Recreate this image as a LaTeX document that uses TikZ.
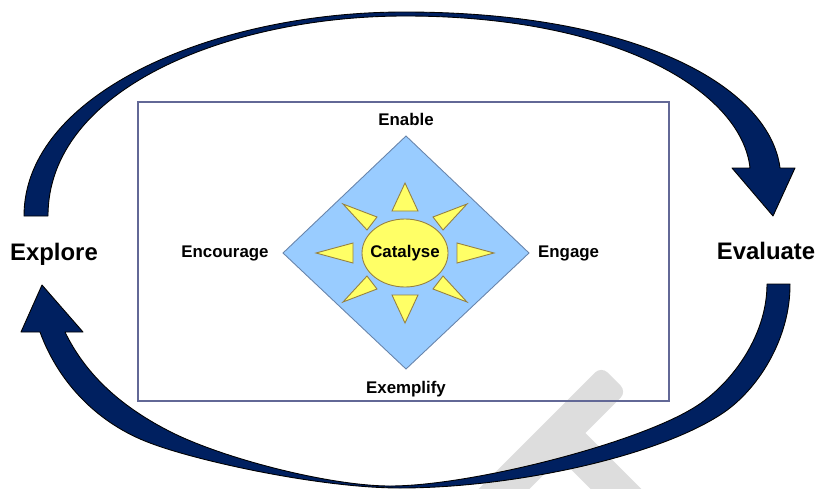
\documentclass[tikz,border=0pt]{standalone}
\usepackage{fontspec}
\setmainfont{Liberation Sans}
\usetikzlibrary{positioning}
\definecolor{CycleNavy}{RGB}{0,32,96}
\definecolor{FrameBlue}{RGB}{98,104,150}
\definecolor{KiteBlue}{RGB}{153,204,255}
\definecolor{KiteEdge}{RGB}{104,132,170}
\definecolor{SunYellow}{RGB}{255,255,102}
\definecolor{SunEdge}{RGB}{150,128,64}
\definecolor{FaintGray}{RGB}{221,221,221}
\tikzset{
  cyclearrow/.style={fill=CycleNavy, draw=black, line width=0.5pt, line join=round},
  frame/.style={draw=FrameBlue, line width=0.85pt},
  kite/.style={fill=KiteBlue, draw=KiteEdge, line width=0.5pt},
  sun/.style={fill=SunYellow, draw=SunEdge, line width=0.5pt},
  faint/.style={fill=FaintGray, draw=none},
  stage/.style={font=\bfseries\fontsize{13.6}{16}\selectfont, inner sep=0pt},
  facet/.style={font=\bfseries\fontsize{9.6}{11}\selectfont, inner sep=0pt},
}

\begin{document}
\begin{tikzpicture}[x=0.02cm, y=0.02cm]
  \useasboundingbox (0,0) rectangle (818,488);
  \clip (0,0) rectangle (818,488);

  % --- faint mark, lower right ---
  \begin{scope}[shift={(614,109)}, rotate=225]
    \path[faint, rounded corners=5pt] (0,-18) rectangle (230,18);
  \end{scope}
  \begin{scope}[shift={(560,55)}, rotate=-45]
    \path[faint] (0,-18) rectangle (160,18);
  \end{scope}

  % --- frame ---
  \draw[frame] (138,87) rectangle (669,386);

  % --- diamond with the sun ---
  \coordinate (C) at (405,235);
  \coordinate (T) at (406,352);
  \coordinate (B) at (406,119);
  \coordinate (L) at (283,235);
  \coordinate (R) at (529,235);
  \path[kite] (T) -- (R) -- (B) -- (L) -- cycle;

  % rays
  \foreach \s in {1,-1} {
    \path[sun, shift={(C)}, yscale=\s] (-13,42) -- (13,42) -- (0,70) -- cycle;
    \path[sun, shift={(C)}, xscale=\s] (52,10) -- (52,-10) -- (89,0) -- cycle;
  }
  \foreach \sx/\sy in {1/1,1/-1,-1/1,-1/-1}
    \path[sun, shift={(C)}, xscale=\sx, yscale=\sy] (28,36) -- (38,23) -- (62,49) -- cycle;

  \path[sun] (C) ellipse [x radius=43, y radius=34];
  \node[facet] (catalyse) at (C) {Catalyse};

  % --- four labels round the diamond ---
  \node[facet, above=5.6pt of T] (enable) {Enable};
  \node[facet, below=6.6pt of B] (exemplify) {Exemplify};
  \node[facet, left=8pt of L] (encourage) {Encourage};
  \node[facet, right=5pt of R] (engage) {Engage};

  % --- outer cycle ---
  \node[stage] (explore) at (54,234) {Explore};
  \node[stage] (evaluate) at (766,237) {Evaluate};

  % upper arrow, Explore to Evaluate
  \path[cyclearrow] (24,272) .. controls (24,395) and (215,476) .. (404,476)
    .. controls (640,476) and (770,400) .. (780,320)
    -- (795,320) -- (773,272) -- (732,320) -- (750,320)
    .. controls (742,395) and (620,472) .. (405,472)
    .. controls (230,472) and (48,400) .. (48,272) -- cycle;

  % lower arrow, Evaluate back to Explore
  \path[cyclearrow] (790,204) .. controls (790.5,150) and (758,97) .. (720,73)
    .. controls (653,30) and (510,0) .. (400,0)
    .. controls (320,0) and (197,27) .. (150,45)
    .. controls (99,64) and (59,104) .. (40,156)
    -- (21,156) -- (42,203) -- (83,156) -- (65,156)
    .. controls (84.6,115.5) and (118,83.5) .. (167,58)
    .. controls (220,30) and (330,2) .. (390,2)
    .. controls (470,2) and (636,44) .. (695,81)
    .. controls (729,102) and (767,150) .. (767,204) -- cycle;

\end{tikzpicture}
\end{document}
